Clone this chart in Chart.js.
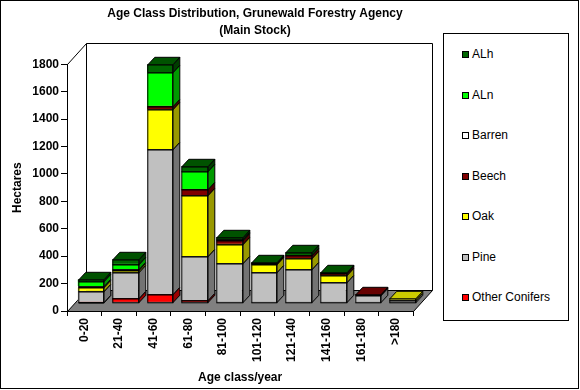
<!DOCTYPE html>
<html>
<head>
<meta charset="utf-8">
<script src="https://cdn.jsdelivr.net/npm/chart.js@4"></script>
<style>
  body { margin: 0; background: #fff; }
  #wrap { position: relative; width: 580px; height: 390px; }
  #legend {
    position: absolute; left: 443px; top: 33px; width: 124px; height: 286px;
    border: 1px solid #000; background: #fff;
    font: 12px 'Liberation Sans', Arial, sans-serif; color: #000;
  }
  #legend .item { position: absolute; left: 18px; height: 14px; line-height: 14px; white-space: nowrap; }
  #legend .box { display: inline-block; width: 5px; height: 5px; border: 1px solid #000; margin-right: 3px; vertical-align: 0px; }
</style>
</head>
<body>
<div id="wrap">
  <canvas id="grafico_classes_idade" width="580" height="390"></canvas>
  <div id="legend"></div>
</div>
<script>
const FONT = "'Liberation Sans', Arial, sans-serif";

const ageClasses = ['0-20', '21-40', '41-60', '61-80', '81-100', '101-120', '121-140', '141-160', '161-180', '>180'];

// hectares per age class, bottom of the stack first
const otherConifers = [3, 29, 58, 15, 0, 0, 0, 0, 0, 0];
const pine = [80, 187, 1061, 320, 285, 219, 243, 146, 52, 18];
const oak = [24, 19, 290, 443, 141, 58, 78, 49, 0, 10];
const beech = [0, 0, 24, 49, 24, 8, 24, 15, 5, 0];
const barren = [12, 5, 0, 0, 0, 0, 0, 0, 0, 0];
const aln = [32, 40, 246, 129, 8, 0, 0, 0, 0, 0];
const alh = [15, 32, 56, 36, 18, 5, 17, 10, 0, 0];

const yMax = 1800;
const yStep = 200;

// 3d look (pixels)
const FLOOR_DX = 19, FLOOR_DY = -21;
const SHIFT_X = 6.3, SHIFT_Y = -8.7;
const BAR_DX = 7, BAR_DY = -7.5;

function shade(hex, f) {
    const n = parseInt(hex.slice(1), 16);
    const r = Math.round(((n >> 16) & 255) * f);
    const g = Math.round(((n >> 8) & 255) * f);
    const b = Math.round((n & 255) * f);
    return 'rgb(' + r + ',' + g + ',' + b + ')';
}

const px = v => Math.round(v) + 0.5;

const depthPlugin = {
    id: 'depth',
    beforeDraw(chart) {
        const ctx = chart.ctx;
        const a = chart.chartArea;
        ctx.save();
        ctx.fillStyle = '#fff';
        ctx.fillRect(0, 0, chart.width, chart.height);
        ctx.strokeStyle = '#000';
        ctx.lineWidth = 1;
        ctx.strokeRect(0.5, 0.5, 578, 388);

        const L = px(a.left), R = px(a.right), T = px(a.top), B = px(a.bottom);
        // walls
        ctx.beginPath();
        ctx.moveTo(L, T);
        ctx.lineTo(L + FLOOR_DX, T + FLOOR_DY);
        ctx.lineTo(R + FLOOR_DX, T + FLOOR_DY);
        ctx.lineTo(R + FLOOR_DX, B + FLOOR_DY);
        ctx.moveTo(L + FLOOR_DX, T + FLOOR_DY);
        ctx.lineTo(L + FLOOR_DX, B + FLOOR_DY);
        ctx.stroke();
        // floor
        ctx.beginPath();
        ctx.moveTo(L, B);
        ctx.lineTo(L + FLOOR_DX, B + FLOOR_DY);
        ctx.lineTo(R + FLOOR_DX, B + FLOOR_DY);
        ctx.lineTo(R, B);
        ctx.closePath();
        ctx.fillStyle = '#808080';
        ctx.fill();
        ctx.stroke();
        ctx.restore();
    },
    beforeDatasetsDraw(chart) {
        chart.ctx.save();
        chart.ctx.translate(SHIFT_X, SHIFT_Y);
    },
    afterDatasetsDraw(chart) {
        const ctx = chart.ctx;
        const metas = chart.getSortedVisibleDatasetMetas();
        ctx.strokeStyle = '#000';
        ctx.lineWidth = 1;
        for (let i = 0; i < chart.data.labels.length; i++) {
            let top = null;
            metas.forEach(meta => {
                const ds = chart.data.datasets[meta.index];
                if (!ds.data[i]) return;
                const p = meta.data[i].getProps(['x', 'y', 'base', 'width'], true);
                const l = px(p.x - p.width / 2), r = px(p.x + p.width / 2);
                const t = px(p.y), b = px(p.base);
                ctx.beginPath();
                ctx.moveTo(r, b);
                ctx.lineTo(r, t);
                ctx.lineTo(r + BAR_DX, t + BAR_DY);
                ctx.lineTo(r + BAR_DX, b + BAR_DY);
                ctx.closePath();
                ctx.fillStyle = shade(ds.backgroundColor, 0.6);
                ctx.fill();
                ctx.stroke();
                ctx.strokeRect(l, t, r - l, b - t);
                top = {l, r, t, col: ds.backgroundColor};
            });
            if (top) {
                ctx.beginPath();
                ctx.moveTo(top.l, top.t);
                ctx.lineTo(top.l + BAR_DX, top.t + BAR_DY);
                ctx.lineTo(top.r + BAR_DX, top.t + BAR_DY);
                ctx.lineTo(top.r, top.t);
                ctx.closePath();
                ctx.fillStyle = shade(top.col, 0.8);
                ctx.fill();
                ctx.stroke();
            }
        }
        ctx.restore();
    }
};

const data_classes_idade = {
    labels: ageClasses,
    datasets: [
        { label: 'Other Conifers', data: otherConifers, backgroundColor: '#ff0000' },
        { label: 'Pine', data: pine, backgroundColor: '#c0c0c0' },
        { label: 'Oak', data: oak, backgroundColor: '#ffff00' },
        { label: 'Beech', data: beech, backgroundColor: '#800000' },
        { label: 'Barren', data: barren, backgroundColor: '#ffffff' },
        { label: 'ALn', data: aln, backgroundColor: '#00ff00' },
        { label: 'ALh', data: alh, backgroundColor: '#006600' }
    ]
};

Chart.defaults.color = '#000';
Chart.defaults.font.family = FONT;

const config_classes_idade = {
    type: 'bar',
    data: data_classes_idade,
    plugins: [depthPlugin],
    options: {
        responsive: false,
        animation: false,
        clip: false,
        borderWidth: 0,
        barPercentage: 0.74,
        categoryPercentage: 1,
        layout: { padding: { left: 0, right: 70, top: 0, bottom: 0 } },
        plugins: {
            legend: { display: false },
            tooltip: { enabled: false },
            title: {
                display: true,
                text: ['Age Class Distribution, Grunewald Forestry Agency', '(Main Stock)'],
                font: { size: 12, weight: 'bold', lineHeight: '17px' },
                padding: { top: 5.5, bottom: 24.8 }
            }
        },
        scales: {
            x: {
                stacked: true,
                grid: { offset: true, drawOnChartArea: false, tickLength: 5, tickColor: '#000' },
                border: { color: '#000' },
                ticks: { minRotation: 90, maxRotation: 90, autoSkip: false, padding: 2, font: { size: 12, weight: 'bold' } },
                title: { display: true, text: 'Age class/year', font: { size: 12, weight: 'bold' }, padding: { top: 0, bottom: 4.8 } },
                afterFit: s => { s.height = 79; }
            },
            y: {
                stacked: true,
                min: 0,
                max: yMax,
                grid: { drawOnChartArea: false, tickLength: 6, tickColor: '#000' },
                border: { color: '#000' },
                ticks: { stepSize: yStep, padding: 2, font: { size: 12, weight: 'bold' }, callback: v => String(v) },
                title: { display: true, text: 'Hectares', font: { size: 12, weight: 'bold' }, padding: { top: 10, bottom: 0 } },
                afterFit: s => { s.width = 67; }
            },
            espaco: {
                position: 'right',
                grid: { display: false },
                border: { display: false },
                ticks: { display: false },
                afterFit: s => { s.width = 96.7; }
            }
        }
    }
};

const grafico_classes_idade = new Chart(
    document.getElementById('grafico_classes_idade'),
    config_classes_idade
);

// legend, top of the stack first
const legend = document.getElementById('legend');
data_classes_idade.datasets.slice().reverse().forEach((ds, i) => {
    const item = document.createElement('div');
    item.className = 'item';
    item.style.top = (13 + i * 40.5) + 'px';
    const box = document.createElement('span');
    box.className = 'box';
    box.style.background = ds.backgroundColor;
    item.appendChild(box);
    item.appendChild(document.createTextNode(ds.label));
    legend.appendChild(item);
});
</script>
</body>
</html>
